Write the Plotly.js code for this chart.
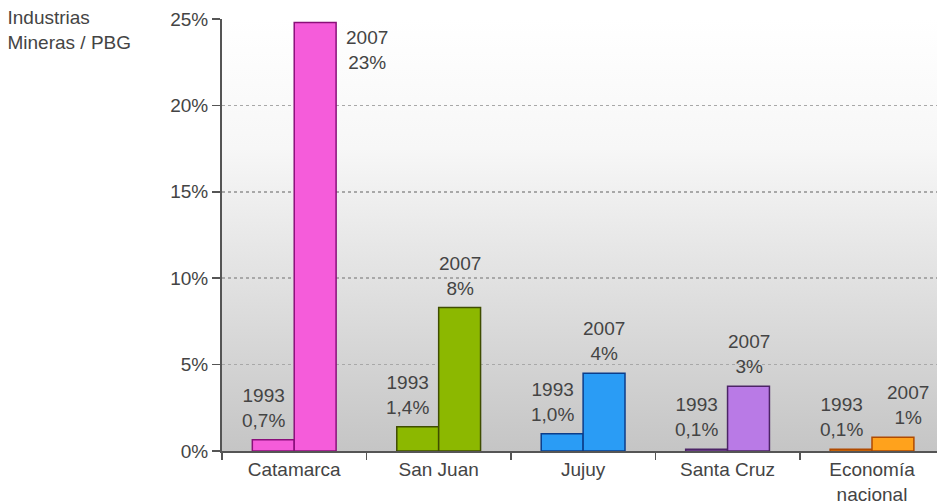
<!DOCTYPE html>
<html>
<head>
<meta charset="utf-8">
<script src="https://cdn.plot.ly/plotly-3.0.1.min.js"></script>
<style>
  html, body { margin: 0; padding: 0; background: #ffffff; }
  #chart { width: 937px; height: 504px; }
</style>
</head>
<body>
<div id="chart"></div>
<script>
// ---- data ----
const categories = ["Catamarca", "San Juan", "Jujuy", "Santa Cruz", "Economía<br>nacional"];
const years = ["1993", "2007"];
const values1993 = [0.65, 1.4, 1.0, 0.1, 0.1];
const values2007 = [24.8, 8.3, 4.5, 3.75, 0.8];
const labels1993 = ["0,7%", "1,4%", "1,0%", "0,1%", "0,1%"];
const labels2007 = ["23%", "8%", "4%", "3%", "1%"];
const yTickValues = [0, 5, 10, 15, 20, 25];
const yTickLabels = ["0%", "5%", "10%", "15%", "20%", "25%"];
const titleText = "Industrias<br>Mineras / PBG";

// ---- styles ----
const fillColors = ["#f55cda", "#8cb800", "#2a9cf5", "#b97ae6", "#ffa21c"];
const lineColors = ["#8a0f7a", "#3f4d00", "#0b3d8a", "#4c2466", "#b04a00"];
const textColor = "#444444";
const font = "Arial, 'Liberation Sans', sans-serif";

const traces = [
  {
    type: "bar", name: years[0], x: categories, y: values1993,
    marker: { color: fillColors, line: { color: lineColors, width: 1.5 } },
    hoverinfo: "skip"
  },
  {
    type: "bar", name: years[1], x: categories, y: values2007,
    marker: { color: fillColors, line: { color: lineColors, width: 1.5 } },
    hoverinfo: "skip"
  }
];

// label annotations above bars
const annotations = [];
categories.forEach((c, i) => {
  annotations.push({
    x: c, y: values1993[i], xref: "x", yref: "y",
    text: years[0] + "<br>" + labels1993[i],
    showarrow: false, xanchor: "center", yanchor: "bottom",
    xshift: -31, yshift: 7,
    font: { family: font, size: 19, color: textColor }
  });
  if (i === 0) {
    annotations.push({
      x: c, y: values2007[i], xref: "x", yref: "y",
      text: years[1] + "<br>" + labels2007[i],
      showarrow: false, xanchor: "left", yanchor: "top",
      xshift: 50, yshift: -3,
      font: { family: font, size: 19, color: textColor }
    });
  } else {
    annotations.push({
      x: c, y: values2007[i], xref: "x", yref: "y",
      text: years[1] + "<br>" + labels2007[i],
      showarrow: false, xanchor: "center", yanchor: "bottom",
      xshift: (i === 4 ? 36 : 21), yshift: 7,
      font: { family: font, size: 19, color: textColor }
    });
  }
});

const gradSvg = '<svg xmlns="http://www.w3.org/2000/svg" width="10" height="100" preserveAspectRatio="none">' +
  '<defs><linearGradient id="g" x1="0" y1="0" x2="0" y2="1">' +
  '<stop offset="0" stop-color="#ffffff"/><stop offset="0.3" stop-color="#f7f7f7"/>' +
  '<stop offset="1" stop-color="#c5c5c5"/></linearGradient></defs>' +
  '<rect width="10" height="100" fill="url(#g)"/></svg>';

const layout = {
  width: 937, height: 504,
  margin: { l: 222, r: 0, t: 19, b: 53, pad: 0 },
  paper_bgcolor: "#ffffff",
  plot_bgcolor: "rgba(0,0,0,0)",
  showlegend: false,
  barmode: "group",
  bargap: 0.42,
  bargroupgap: 0,
  title: {
    text: titleText,
    x: 0.008, xanchor: "left", xref: "container",
    y: 0.952, yanchor: "top", yref: "container",
    font: { family: font, size: 19, color: textColor }
  },
  xaxis: {
    type: "category",
    range: [-0.5, 4.45],
    tickson: "boundaries",
    ticks: "outside", ticklen: 7, tickwidth: 1.5, tickcolor: "#555555",
    showline: true, linecolor: "#555555", linewidth: 2,
    showgrid: false, zeroline: false,
    tickfont: { family: font, size: 19, color: textColor }
  },
  yaxis: {
    range: [0, 25],
    tickvals: yTickValues, ticktext: yTickLabels,
    ticks: "outside", ticklen: 8, tickwidth: 1.5, tickcolor: "#555555",
    showline: true, linecolor: "#555555", linewidth: 2,
    showgrid: true, gridcolor: "#a8a8a8", gridwidth: 1.5, griddash: "3px,3px",
    zeroline: false,
    tickfont: { family: font, size: 19, color: textColor }
  },
  images: [{
    source: "data:image/svg+xml;charset=utf-8," + encodeURIComponent(gradSvg),
    xref: "paper", yref: "paper", x: 0, y: 1, sizex: 1, sizey: 1,
    xanchor: "left", yanchor: "top", sizing: "stretch", layer: "below"
  }],
  annotations: annotations
};

Plotly.newPlot("chart", traces, layout, { displayModeBar: false, staticPlot: true });
</script>
</body>
</html>
